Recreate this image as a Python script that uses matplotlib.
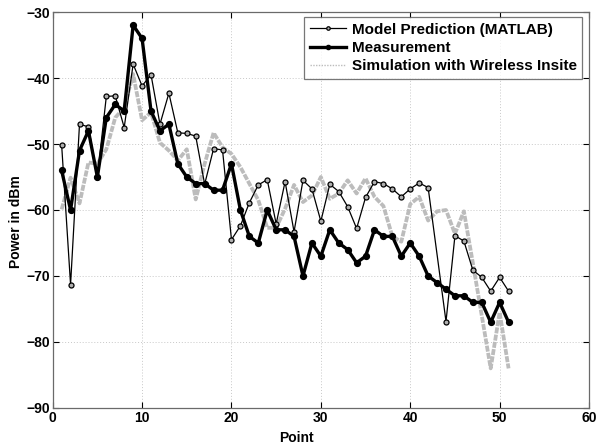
import matplotlib
matplotlib.use("Agg")
import matplotlib.pyplot as plt
import numpy as np

plt.rcParams['font.family'] = ['Liberation Sans', 'DejaVu Sans']
plt.rcParams['font.weight'] = 'bold'

# Data
x_meas = list(range(1, 52))
measurement = [-54, -60, -51, -48, -55, -46, -44, -45, -32, -34,
               -45, -48, -47, -53, -55, -56, -56, -57, -57, -53,
               -60, -64, -65, -60, -63, -63, -64, -70, -65, -67,
               -63, -65, -66, -68, -67, -63, -64, -64, -67, -65,
               -67, -70, -71, -72, -73, -73, -74, -74, -77, -74, -77]

x_model = list(range(1, 43)) + list(range(44, 52))
model = [-50.1, -71.3, -47.0, -47.4, -55.0, -42.8, -42.7, -47.5, -37.9, -41.2,
         -39.5, -47.0, -42.3, -48.3, -48.4, -48.8, -56.1, -50.7, -50.9, -64.5,
         -62.4, -58.9, -56.2, -55.4, -62.1, -55.7, -63.3, -55.5, -56.8, -61.7,
         -56.1, -57.2, -59.5, -62.8, -58.1, -55.7, -56.0, -56.8, -58.0, -56.8,
         -55.9, -56.6,
         -76.9, -63.9, -64.7, -69.1, -70.2, -72.3, -70.2, -72.3]

x_sim = list(range(1, 52))
simulation = [-59.9, -55.1, -59.0, -52.8, -53.0, -50.8, -46.0, -44.5, -39.4, -46.4,
              -45.2, -49.8, -51.0, -52.5, -50.8, -58.4, -53.0, -48.3, -50.5, -51.5,
              -53.5, -56.0, -58.5, -62.7, -62.7, -59.8, -56.2, -58.8, -57.8, -55.0,
              -58.3, -57.5, -55.5, -57.5, -55.2, -58.0, -59.4, -64.0, -64.8, -59.1,
              -58.0, -61.6, -60.2, -60.0, -63.6, -60.2, -68.0, -76.0, -84.0, -75.5, -84.0]

xticks = [0, 10, 20, 30, 40, 50, 60]
yticks = [-90, -80, -70, -60, -50, -40, -30]

fig = plt.figure(figsize=(5.98, 4.48), dpi=100)
ax = fig.add_axes([0.0881, 0.0893, 0.8969, 0.8839])

ax.plot(x_model, model, color='black', lw=0.9, marker='o', markersize=3.6,
        markerfacecolor='#b0b0b0', markeredgecolor='black', markeredgewidth=0.9,
        label='Model Prediction (MATLAB)', zorder=3)
ax.plot(x_meas, measurement, color='black', lw=2.4, marker='o', markersize=4.2,
        markerfacecolor='black', markeredgecolor='black',
        label='Measurement', zorder=4)
ax.plot(x_sim, simulation, color='#bcbcbc', lw=2.7, linestyle=(0, (1.6, 0.35)),
        label='Simulation with Wireless Insite', zorder=2)

ax.set_xlim(0, 60)
ax.set_ylim(-90, -30)
ax.set_xticks(xticks)
ax.set_yticks(yticks)
ax.tick_params(direction='in', length=4, width=0.8, top=True, right=True,
               labelsize=10, pad=2, colors='black')
for lab in ax.get_xticklabels() + ax.get_yticklabels():
    lab.set_fontweight('bold')
ax.grid(True, linestyle=(0, (1, 2)), color='#c8c8c8', lw=0.7)
for s in ax.spines.values():
    s.set_color('#6a6a6a')
    s.set_linewidth(0.9)

ax.set_xlabel('Point', fontsize=10, fontweight='bold', labelpad=0)
ax.xaxis.set_label_coords(0.455, -0.057)
ax.set_ylabel('Power in dBm', fontsize=10, fontweight='bold')
ax.yaxis.set_label_coords(-0.055, 0.47)

leg = ax.legend(loc='upper right', bbox_to_anchor=(0.987, 0.9866), fontsize=11,
                frameon=True, fancybox=False, handlelength=2.4, borderpad=0.35,
                labelspacing=0.28, handletextpad=0.35, borderaxespad=0.0)
leg.get_frame().set_edgecolor('#555555')
leg.get_frame().set_linewidth(0.9)
for t in leg.get_texts():
    t.set_fontweight('bold')
leg.legend_handles[2].set_linewidth(1.0)
leg.legend_handles[2].set_linestyle((0, (1, 1)))
leg.legend_handles[0].set_markersize(2.5)
leg.legend_handles[1].set_markersize(3)

fig.savefig('out.png', dpi=100)
